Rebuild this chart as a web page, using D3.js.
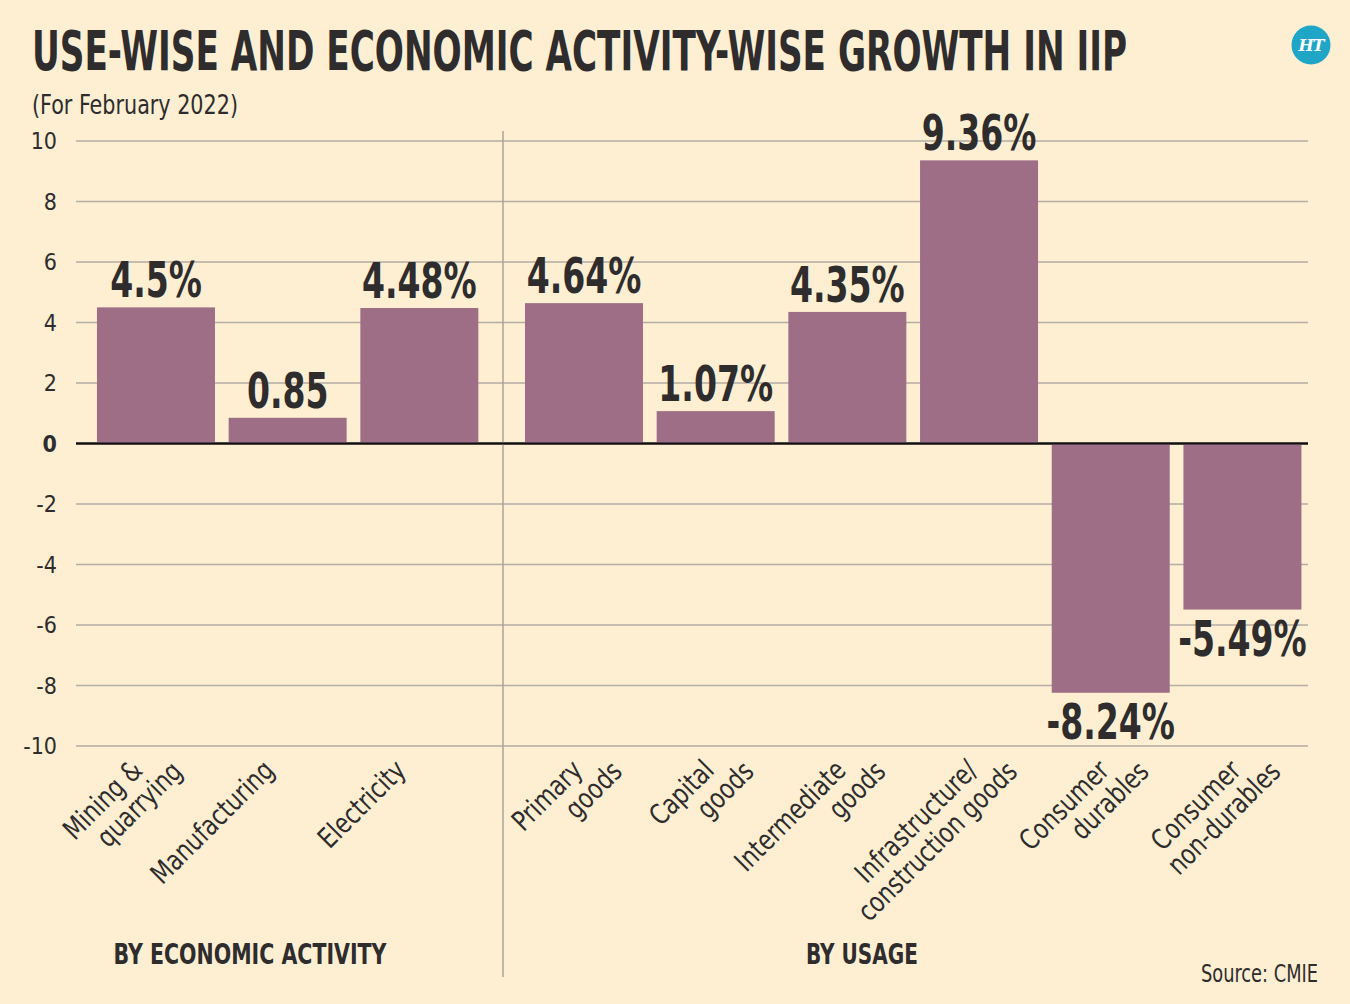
<!DOCTYPE html>
<html><head><meta charset="utf-8">
<script src="https://cdn.jsdelivr.net/npm/d3@7"></script>
<style>
html,body{margin:0;padding:0;background:#FEEFD3;}
svg{display:block;}
</style></head>
<body>
<svg id="chart" width="1350" height="1004"></svg>
<script>
// ---- data ----
const activityCategories = [["Mining &","quarrying"],["Manufacturing"],["Electricity"]];
const activityValues = [4.5, 0.85, 4.48];
const activityLabels = ["4.5%", "0.85", "4.48%"];
const usageCategories = [["Primary","goods"],["Capital","goods"],["Intermediate","goods"],["Infrastructure/","construction goods"],["Consumer","durables"],["Consumer","non-durables"]];
const usageValues = [4.64, 1.07, 4.35, 9.36, -8.24, -5.49];
const usageLabels = ["4.64%", "1.07%", "4.35%", "9.36%", "-8.24%", "-5.49%"];
const yTicks = [10, 8, 6, 4, 2, 0, -2, -4, -6, -8, -10];
const groupTitles = ["BY ECONOMIC ACTIVITY", "BY USAGE"];

// ---- styles ----
const BG = "#FEEFD3", BAR = "#9E6E86", INK = "#2E2C2D", GRID = "#B3ADA4";
const NARROW = "'Liberation Sans Narrow','DejaVu Sans Condensed','Arial Narrow',sans-serif";

const svg = d3.select("#chart");
svg.append("rect").attr("width",1350).attr("height",1004).attr("fill",BG);

// title
svg.append("text").attr("x",32).attr("y",70)
  .attr("font-family",NARROW).attr("font-weight","bold").attr("font-size",56)
  .attr("fill",INK).attr("textLength",1095).attr("lengthAdjust","spacingAndGlyphs")
  .text("USE-WISE AND ECONOMIC ACTIVITY-WISE GROWTH IN IIP");
svg.append("text").attr("x",32).attr("y",114)
  .attr("font-family",NARROW).attr("font-size",27).attr("fill",INK)
  .attr("textLength",206).attr("lengthAdjust","spacingAndGlyphs")
  .text("(For February 2022)");

// logo
const logo = svg.append("g").attr("transform","translate(1311,45)");
logo.append("circle").attr("r",19.5).attr("fill","#1FA6C6");
logo.append("text").attr("text-anchor","middle").attr("y",6)
  .attr("font-family","'DejaVu Serif','Liberation Serif',serif").attr("font-style","italic")
  .attr("font-weight","bold").attr("font-size",16).attr("fill","#fff").attr("letter-spacing",-1).text("HT");

// scales
const y = d3.scaleLinear().domain([-10, 10]).range([746, 141]);
const xLeft = d3.scaleBand().domain(d3.range(activityValues.length)).range([83.8, 491.5]).paddingInner(0.104).paddingOuter(0.1);
const xRight = d3.scaleBand().domain(d3.range(usageValues.length)).range([511.8, 1314.6]).paddingInner(0.104).paddingOuter(0.1);

// grid + y axis
const plotX0 = 76, plotX1 = 1308;
yTicks.forEach(t => {
  svg.append("line").attr("x1",plotX0).attr("x2",plotX1).attr("y1",y(t)).attr("y2",y(t))
    .attr("stroke", t===0 ? "#111" : GRID).attr("stroke-width", t===0 ? 2.2 : 1.3);
  svg.append("text").attr("x",57).attr("y",y(t)+8).attr("text-anchor","end")
    .attr("font-family",NARROW).attr("font-size",23).attr("font-weight", t===0 ? "bold" : "normal")
    .attr("fill",INK).text(t);
});

// divider
svg.append("line").attr("x1",503).attr("x2",503).attr("y1",131).attr("y2",977)
  .attr("stroke","#A9A49D").attr("stroke-width",1.5);

function drawGroup(cats, vals, labels, x, labShift) {
  const g = svg.append("g");
  g.selectAll("rect.bar").data(vals).join("rect").attr("class","bar")
    .attr("x",(d,i)=>x(i)).attr("width",x.bandwidth())
    .attr("y",d=>y(Math.max(0,d))).attr("height",d=>Math.abs(y(d)-y(0)))
    .attr("fill",BAR);
  // value labels (horizontally condensed)
  g.selectAll("g.val").data(vals).join("g").attr("class","val")
    .attr("transform",(d,i)=>`translate(${x(i)+x.bandwidth()/2},${d>=0 ? y(d)-10 : y(d)+46}) scale(0.75,1)`)
    .append("text")
    .attr("text-anchor","middle").attr("font-family",NARROW).attr("font-weight","bold")
    .attr("font-size",49).attr("fill",INK)
    .text((d,i)=>labels[i]);
  // category labels, rotated, condensed
  cats.forEach((lines,i) => {
    const ax = x(i) + x.bandwidth()/2 + labShift;
    const lg = g.append("g").attr("transform",`translate(${ax},772) rotate(-45) scale(0.88,1)`);
    lines.forEach((ln,j) => {
      lg.append("text").attr("x", j*31).attr("y", j*29)
        .attr("text-anchor","end").attr("font-family",NARROW).attr("font-size",28)
        .attr("fill",INK).text(ln);
    });
  });
}
drawGroup(activityCategories, activityValues, activityLabels, xLeft, -12);
drawGroup(usageCategories, usageValues, usageLabels, xRight, 0);

// zero line on top of bars' base
svg.append("line").attr("x1",plotX0).attr("x2",plotX1).attr("y1",y(0)).attr("y2",y(0))
  .attr("stroke","#111").attr("stroke-width",2.2);

// group titles
svg.append("text").attr("x",250).attr("y",964).attr("text-anchor","middle")
  .attr("font-family",NARROW).attr("font-weight","bold").attr("font-size",29).attr("fill",INK)
  .attr("textLength",273).attr("lengthAdjust","spacingAndGlyphs").text(groupTitles[0]);
svg.append("text").attr("x",862).attr("y",964).attr("text-anchor","middle")
  .attr("font-family",NARROW).attr("font-weight","bold").attr("font-size",29).attr("fill",INK)
  .attr("textLength",112).attr("lengthAdjust","spacingAndGlyphs").text(groupTitles[1]);
svg.append("text").attr("x",1318).attr("y",982).attr("text-anchor","end")
  .attr("font-family",NARROW).attr("font-size",24).attr("fill",INK)
  .attr("textLength",117).attr("lengthAdjust","spacingAndGlyphs").text("Source: CMIE");
</script>
</body></html>
